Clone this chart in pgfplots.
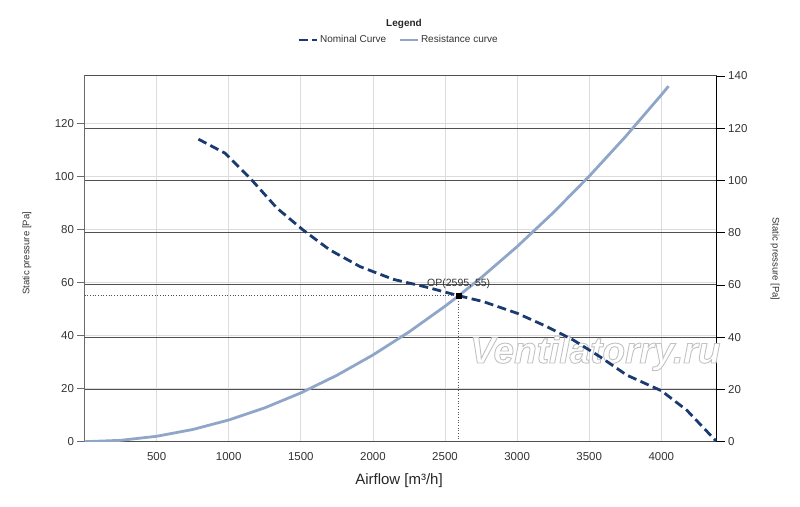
\documentclass[border=0pt]{standalone}
\usepackage{pgfplots}
\pgfplotsset{compat=1.18}
\usepackage{fontspec}
\setmainfont{Liberation Sans}
\definecolor{navy}{HTML}{1A3A70}
\definecolor{steel}{HTML}{8FA6C8}
\definecolor{lgrid}{HTML}{DCDCDC}
\definecolor{dgrid}{HTML}{505050}
\definecolor{frame}{HTML}{6A6A6A}
\definecolor{txt}{HTML}{333333}
\begin{document}
\begin{tikzpicture}
\useasboundingbox (0,0) rectangle (800bp,507bp);
\pgfplotsset{every axis/.append style={scale only axis, width=632.2bp, height=365.7bp,
  at={(84.5bp,65.3bp)}, anchor=south west, xmin=0, xmax=4384,
  /pgf/number format/assume math mode=true, /pgf/number format/1000 sep={},
  tick label style={font=\fontsize{11.5bp}{13bp}\selectfont, text=txt}}}
% left axis, light grid
\begin{axis}[ymin=0, ymax=137.8, xtick={500,1000,...,4000}, ytick={0,20,...,120},
  grid=major, grid style={lgrid, line width=0.8bp},
  axis line style={frame, line width=1bp},
  xtick pos=bottom, ytick pos=left, tick align=outside, major tick length=7bp,
  xtick style={draw=none}, ytick style={frame, line width=0.8bp}]
\addplot[draw=none] coordinates {(0,0)};
\end{axis}
% right axis, dark grid
\begin{axis}[ymin=0, ymax=140, axis y line*=right, axis x line=none,
  ytick={0,20,...,140}, ymajorgrids, grid style={dgrid, line width=1bp},
  axis line style={black, line width=1bp}, tick align=outside, major tick length=8bp,
  ytick style={black, line width=0.8bp}]
\addplot[draw=none] coordinates {(0,0)};
\end{axis}
% watermark (outlined text)
\begin{scope}
\node[anchor=base west, inner sep=0, text=white, font=\fontsize{37bp}{40bp}\selectfont\bfseries\itshape] at (470bp,144bp) {\special{pdf:literal direct 2 Tr 0.9 w 0.76 G}Ventilatorry.ru\special{pdf:literal direct 0 Tr}};
\end{scope}
% labels
\node[rotate=90, font=\fontsize{9.5bp}{11bp}\selectfont, text=txt] at (27bp,253.5bp) {Static pressure [Pa]};
\node[rotate=-90, font=\fontsize{9.5bp}{11bp}\selectfont, text=txt] at (775bp,248bp) {Static pressure [Pa]};
\node[anchor=base, font=\fontsize{15bp}{18bp}\selectfont, text=black!85] at (399bp,22.7bp) {Airflow [m³/h]};
\node[anchor=base, font=\fontsize{10bp}{12bp}\selectfont\bfseries, text=black!85] at (404bp,480bp) {Legend};
% curves
\begin{axis}[ymin=0, ymax=137.8, hide axis,
  legend columns=2,
  legend style={at={(axis description cs:0.4967,1.0984)}, anchor=center, draw=none, fill=none,
    font=\fontsize{10bp}{12bp}\selectfont, text=txt,
    /tikz/every even column/.append style={column sep=10bp}},
  legend image code/.code={\draw[#1] (0bp,0bp) -- (18bp,0bp);}]
\addplot[navy, line width=2.8bp, dash pattern=on 9bp off 4.5bp] coordinates {
(790,114.0) (975,108.7) (1160,98.6) (1335,88.0) (1515,79.8) (1700,72.3) (1910,66.0)
(2140,61.2) (2375,58.2) (2595,55.0) (2765,52.8) (3000,48.4) (3205,43.4) (3390,38.3)
(3575,32.0) (3760,25.1) (4000,19.2) (4176,11.9) (4384,0)};
\addlegendentry{Nominal Curve}
\addplot[steel, line width=2.8bp] coordinates {
(0,0) (250,0.51) (500,2.04) (750,4.59) (1000,8.17) (1250,12.76) (1500,18.38)
(1750,25.01) (2000,32.67) (2250,41.35) (2500,51.05) (2595,55.0) (2750,61.77)
(3000,73.51) (3250,86.27) (3500,100.05) (3750,114.86) (4000,130.68) (4050,133.97)};
\addlegendentry{Resistance curve}
\addplot[dgrid, dotted, line width=0.7bp, forget plot] coordinates {(0,55) (2595,55) (2595,0)};
\addplot[black, only marks, mark=square*, mark size=2.2bp, forget plot] coordinates {(2595,55)};
\node[anchor=south, font=\fontsize{10.5bp}{12bp}\selectfont, text=txt, inner sep=1bp] at (axis cs:2595,57.2) {OP(2595, 55)};
\end{axis}
\end{tikzpicture}
\end{document}
